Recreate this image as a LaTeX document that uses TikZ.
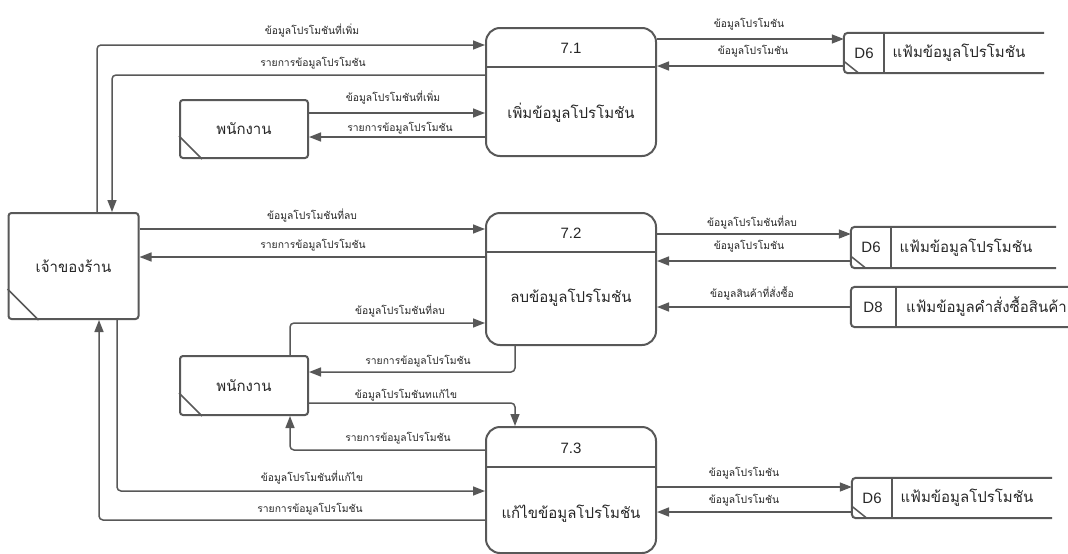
\documentclass[tikz,border=0pt]{standalone}
\usepackage{fontspec}
\setmainfont[Script=Thai]{Loma}
\newfontfamily\latinf{Liberation Sans}
\usetikzlibrary{arrows.meta}
\definecolor{ln}{HTML}{585858}
\definecolor{tx}{HTML}{262626}
\begin{document}
\begin{tikzpicture}[x=1pt,y=-1pt,
  flow/.style={draw=ln, line width=1.5pt, rounded corners=4pt, -{Triangle[length=12pt,width=9pt]}},
  lbl/.style={font=\fontsize{10.3}{12}\selectfont, text=tx, inner sep=0pt},
  proc/.style={draw=ln, line width=2pt, rounded corners=14pt, fill=white, inner sep=0pt},
  ent/.style={draw=ln, line width=2pt, rounded corners=3pt, inner sep=0pt, font=\fontsize{15}{18}\selectfont, text=tx},
  big/.style={font=\fontsize{15}{18}\selectfont, text=tx, inner sep=0pt},
  num/.style={font=\latinf\fontsize{15}{18}\selectfont, text=tx, inner sep=0pt},
  stanchor/.style={minimum height=40pt, inner sep=0pt, draw=none},
  stline/.style={draw=ln, line width=2pt, rounded corners=4pt},
  cornermark/.style={draw=ln, line width=1.5pt},
]
\useasboundingbox (0,0) rectangle (1068,554);
\clip (0,0) rectangle (1068,554);

% ---------- external entities ----------
\node[ent, minimum width=130pt, minimum height=106pt] (own) at (73.5,266) {เจ้าของร้าน};
\draw[cornermark] ([yshift=31pt]own.south west) -- ([xshift=31pt]own.south west);

\node[ent, minimum width=128pt, minimum height=58pt] (stA) at (244,129) {พนักงาน};
\draw[cornermark] ([yshift=23pt]stA.south west) -- ([xshift=23pt]stA.south west);

\node[ent, minimum width=128pt, minimum height=59pt] (stB) at (244,385.5) {พนักงาน};
\draw[cornermark] ([yshift=23pt]stB.south west) -- ([xshift=23pt]stB.south west);

% ---------- processes ----------
\node[proc, minimum width=170pt, minimum height=128pt] (p1) at (571,92) {};
\draw[draw=ln, line width=2pt] ([yshift=-40pt]p1.north west) -- ([yshift=-40pt]p1.north east);
\node[num] (p1n) at (571,48) {7.1};
\node[big] (p1t) at (571,113) {เพิ่มข้อมูลโปรโมชัน};

\node[proc, minimum width=170pt, minimum height=132pt] (p2) at (571,279) {};
\draw[draw=ln, line width=2pt] ([yshift=-40pt]p2.north west) -- ([yshift=-40pt]p2.north east);
\node[num] (p2n) at (571,233) {7.2};
\node[big] (p2t) at (571,298) {ลบข้อมูลโปรโมชัน};

\node[proc, minimum width=170pt, minimum height=126pt] (p3) at (571,490) {};
\draw[draw=ln, line width=2pt] ([yshift=-41pt]p3.north west) -- ([yshift=-41pt]p3.north east);
\node[num] (p3n) at (571,448) {7.3};
\node[big] (p3t) at (571,514) {แก้ไขข้อมูลโปรโมชัน};

% ---------- data stores ----------
% D6 top
\node[stanchor, minimum width=200pt] (s1) at (944,53) {};
\draw[stline] (s1.north east) -- (s1.north west) -- (s1.south west) -- (s1.south east);
\draw[stline] ([xshift=40pt]s1.north west) -- ([xshift=40pt]s1.south west);
\draw[cornermark] ([yshift=12pt]s1.south west) -- ([xshift=15pt]s1.south west);
\node[num] (s1n) at (864,53) {D6};
\node[big] (s1t) at (959,53) {แฟ้มข้อมูลโปรโมชัน};

% D6 middle
\node[stanchor, minimum width=205pt, minimum height=41pt] (s2) at (953.5,247.5) {};
\draw[stline] (s2.north east) -- (s2.north west) -- (s2.south west) -- (s2.south east);
\draw[stline] ([xshift=40pt]s2.north west) -- ([xshift=40pt]s2.south west);
\draw[cornermark] ([yshift=12pt]s2.south west) -- ([xshift=15pt]s2.south west);
\node[num] (s2n) at (871,247.5) {D6};
\node[big] (s2t) at (966,247.5) {แฟ้มข้อมูลโปรโมชัน};

% D8
\node[stanchor, minimum width=240pt] (s3) at (971,307) {};
\draw[stline] (s3.north east) -- (s3.north west) -- (s3.south west) -- (s3.south east);
\draw[stline] ([xshift=45pt]s3.north west) -- ([xshift=45pt]s3.south west);
\node[num] (s3n) at (873,307) {D8};
\node[big, anchor=west] (s3t) at (906,307) {แฟ้มข้อมูลคำสั่งซื้อสินค้า};

% D6 bottom
\node[stanchor, minimum width=200pt] (s4) at (952,498) {};
\draw[stline] (s4.north east) -- (s4.north west) -- (s4.south west) -- (s4.south east);
\draw[stline] ([xshift=40pt]s4.north west) -- ([xshift=40pt]s4.south west);
\draw[cornermark] ([yshift=12pt]s4.south west) -- ([xshift=15pt]s4.south west);
\node[num] (s4n) at (872,498) {D6};
\node[big] (s4t) at (967,498) {แฟ้มข้อมูลโปรโมชัน};

% ---------- flows: 7.1 ----------
\draw[flow] (own.north -| 97,0) |- (p1.west |- 0,45);
\node[lbl] at (312,31) {ข้อมูลโปรโมชันที่เพิ่ม};
\draw[flow] (p1.west |- 0,75) -| (own.north -| 112,0);
\node[lbl] at (313,63) {รายการข้อมูลโปรโมชัน};
\draw[flow] (stA.east |- 0,113) -- (p1.west |- 0,113);
\node[lbl] at (393,98) {ข้อมูลโปรโมชันที่เพิ่ม};
\draw[flow] (p1.west |- 0,137) -- (stA.east |- 0,137);
\node[lbl] at (400,128) {รายการข้อมูลโปรโมชัน};
\draw[flow] (p1.east |- 0,39) -- (s1.west |- 0,39);
\node[lbl] at (749,24) {ข้อมูลโปรโมชัน};
\draw[flow] (s1.west |- 0,66) -- (p1.east |- 0,66);
\node[lbl] at (753,51) {ข้อมูลโปรโมชัน};

% ---------- flows: 7.2 ----------
\draw[flow] (own.east |- 0,229) -- (p2.west |- 0,229);
\node[lbl] at (312,216) {ข้อมูลโปรโมชันที่ลบ};
\draw[flow] (p2.west |- 0,257) -- (own.east |- 0,257);
\node[lbl] at (313,245) {รายการข้อมูลโปรโมชัน};
\draw[flow] (p2.east |- 0,234) -- (s2.west |- 0,234);
\node[lbl] at (752,223) {ข้อมูลโปรโมชันที่ลบ};
\draw[flow] (s2.west |- 0,261) -- (p2.east |- 0,261);
\node[lbl] at (749,246) {ข้อมูลโปรโมชัน};
\draw[flow] (s3.west) -- (p2.east |- s3.west);
\node[lbl] at (752,293) {ข้อมูลสินค้าที่สั่งซื้อ};
\draw[flow] (stB.north -| 290,0) |- (p2.west |- 0,323);
\node[lbl] at (400,311) {ข้อมูลโปรโมชันที่ลบ};
\draw[flow] (p2.south -| 515,0) |- (stB.east |- 0,372);
\node[lbl] at (418,361) {รายการข้อมูลโปรโมชัน};

% ---------- flows: 7.3 ----------
\draw[flow] (stB.east |- 0,403) -| (p3.north -| 515,0);
\node[lbl] at (406,395) {ข้อมูลโปรโมชันทแก้ไข};
\draw[flow] (p3.west |- 0,450) -| (stB.south -| 290,0);
\node[lbl] at (398,438) {รายการข้อมูลโปรโมชัน};
\draw[flow] (own.south -| 117,0) |- (p3.west |- 0,491);
\node[lbl] at (312,478) {ข้อมูลโปรโมชันที่แก้ไข};
\draw[flow] (p3.west |- 0,520) -| (own.south -| 99,0);
\node[lbl] at (310,509) {รายการข้อมูลโปรโมชัน};
\draw[flow] (p3.east |- 0,487) -- (s4.west |- 0,487);
\node[lbl] at (744,473) {ข้อมูลโปรโมชัน};
\draw[flow] (s4.west |- 0,512) -- (p3.east |- 0,512);
\node[lbl] at (744,500) {ข้อมูลโปรโมชัน};
\end{tikzpicture}
\end{document}
